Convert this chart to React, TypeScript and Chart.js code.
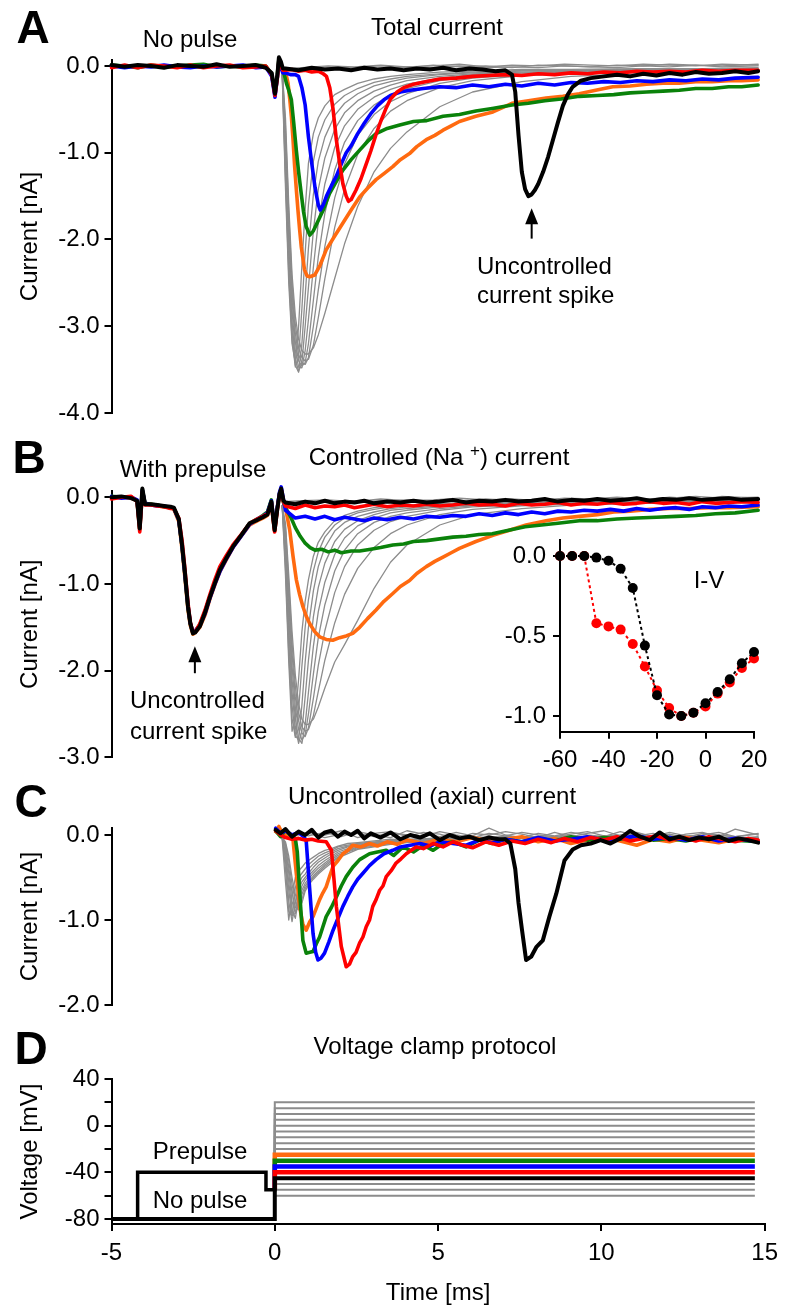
import React, { useEffect, useRef } from 'react';
import { Chart, registerables } from 'chart.js';

Chart.register(...registerables);

const FONT = "'Liberation Sans', Arial, Helvetica, sans-serif";
Chart.defaults.font.family = FONT;
Chart.defaults.font.size = 24;
Chart.defaults.color = '#000';

const GRAY = '#8c8c8c';
const RED = '#ff0000';
const BLUE = '#0000ff';
const GREEN = '#0a820a';
const ORANGE = '#ff6a10';
const BLACK = '#000000';

// ================= Panel A : Total current =================
const tPreA = [-5, -4.6, -4.2, -3.8, -3.4, -3.0, -2.6, -2.2, -1.8, -1.4, -1.0, -0.6, -0.3, -0.12, -0.02, 0.05, 0.1, 0.16, 0.22];
const preBlkA = [0.01, -0.01, 0.01, 0.0, -0.02, 0.01, 0.0, -0.01, 0.02, -0.01, 0.0, 0.01, -0.02, -0.08, -0.32, -0.12, 0.1, 0.05, -0.03];
const preRedA = [-0.02, 0.01, -0.02, 0.01, 0.0, -0.02, 0.01, -0.02, 0.0, 0.01, -0.02, -0.01, 0.0, -0.1, -0.34, -0.15, 0.06, 0.0, -0.05];
const preBluA = [0.0, -0.02, 0.0, -0.01, 0.01, -0.01, -0.02, 0.0, -0.01, 0.0, 0.01, -0.02, -0.01, -0.12, -0.36, -0.14, 0.05, -0.02, -0.08];
const preGrnA = [0.01, 0.0, -0.02, 0.01, -0.01, 0.0, 0.01, 0.02, -0.01, 0.0, -0.01, 0.01, 0.0, -0.09, -0.3, -0.1, 0.08, 0.02, -0.06];

const tBlkA = [0.3, 0.7, 1.1, 1.5, 1.9, 2.3, 2.7, 3.1, 3.5, 3.9, 4.3, 4.7, 5.1, 5.5, 5.9, 6.3, 6.7, 7.0, 7.2, 7.3, 7.4, 7.5, 7.6, 7.7, 7.8, 7.9, 8.0, 8.15, 8.3, 8.45, 8.6, 8.75, 8.9, 9.05, 9.3, 9.6, 10.0, 10.4, 10.8, 11.2, 11.6, 12.0, 12.4, 12.8, 13.2, 13.6, 14.0, 14.4, 14.7];
const vBlkA = [-0.03, -0.05, -0.02, -0.04, -0.03, -0.05, -0.02, -0.04, -0.03, -0.05, -0.03, -0.04, -0.02, -0.05, -0.03, -0.04, -0.06, -0.05, -0.1, -0.3, -0.8, -1.22, -1.42, -1.5, -1.48, -1.43, -1.36, -1.22, -1.05, -0.85, -0.65, -0.46, -0.33, -0.24, -0.17, -0.14, -0.12, -0.1, -0.12, -0.09, -0.11, -0.08, -0.1, -0.07, -0.09, -0.08, -0.06, -0.08, -0.06];

const tRedA = [0.3, 0.5, 0.7, 0.9, 1.1, 1.3, 1.45, 1.55, 1.65, 1.75, 1.85, 1.95, 2.05, 2.15, 2.22, 2.3, 2.45, 2.6, 2.75, 2.9, 3.05, 3.2, 3.35, 3.5, 3.7, 3.9, 4.2, 4.6, 5.0, 5.5, 6.0, 6.5, 7.0, 7.5, 8.0, 8.5, 9.0, 9.5, 10.0, 10.5, 11.0, 11.5, 12.0, 12.5, 13.0, 13.5, 14.0, 14.7];
const vRedA = [-0.05, -0.04, -0.06, -0.05, -0.07, -0.06, -0.09, -0.12, -0.25, -0.5, -0.85, -1.12, -1.36, -1.5, -1.56, -1.54, -1.43, -1.3, -1.14, -0.98, -0.8, -0.64, -0.5, -0.38, -0.3, -0.25, -0.21, -0.18, -0.15, -0.14, -0.12, -0.11, -0.1, -0.11, -0.09, -0.1, -0.08, -0.09, -0.07, -0.08, -0.06, -0.07, -0.06, -0.07, -0.05, -0.06, -0.05, -0.05];

const tBluA = [0.3, 0.45, 0.6, 0.7, 0.8, 0.9, 1.0, 1.1, 1.2, 1.3, 1.36, 1.45, 1.55, 1.7, 1.85, 2.0, 2.15, 2.3, 2.5, 2.7, 2.9, 3.1, 3.3, 3.5, 3.8, 4.1, 4.5, 5.0, 5.5, 6.0, 6.5, 7.0, 7.5, 8.0, 8.5, 9.0, 9.5, 10.0, 10.5, 11.0, 11.5, 12.0, 12.5, 13.0, 13.5, 14.0, 14.7];
const vBluA = [-0.08, -0.1, -0.1, -0.12, -0.25, -0.45, -0.82, -1.12, -1.4, -1.6, -1.66, -1.6, -1.5, -1.38, -1.27, -1.13, -1.0, -0.92, -0.78, -0.66, -0.55, -0.46, -0.39, -0.34, -0.3, -0.28, -0.26, -0.24, -0.25, -0.22, -0.24, -0.21, -0.23, -0.2, -0.22, -0.19, -0.2, -0.18, -0.19, -0.17, -0.18, -0.16, -0.17, -0.15, -0.16, -0.14, -0.13];

const tGrnA = [0.25, 0.33, 0.4, 0.48, 0.55, 0.63, 0.7, 0.78, 0.85, 0.93, 1.04, 1.15, 1.3, 1.45, 1.64, 1.85, 2.05, 2.3, 2.56, 2.8, 3.06, 3.4, 3.78, 4.2, 4.6, 5.1, 5.6, 6.1, 6.6, 7.2, 7.7, 8.2, 8.7, 9.25, 9.8, 10.3, 10.8, 11.3, 11.8, 12.3, 12.8, 13.3, 13.8, 14.2, 14.7];
const vGrnA = [-0.08, -0.2, -0.28, -0.39, -0.65, -0.97, -1.22, -1.47, -1.68, -1.85, -1.95, -1.9, -1.78, -1.66, -1.47, -1.33, -1.2, -1.08, -0.97, -0.87, -0.78, -0.72, -0.68, -0.64, -0.63, -0.58, -0.56, -0.52, -0.49, -0.45, -0.43, -0.4, -0.38, -0.35, -0.34, -0.33, -0.31, -0.3, -0.29, -0.28, -0.26, -0.26, -0.24, -0.24, -0.22];

const tOrgA = [0.25, 0.32, 0.38, 0.43, 0.48, 0.53, 0.58, 0.63, 0.68, 0.73, 0.78, 0.88, 0.96, 1.04, 1.19, 1.35, 1.54, 1.8, 2.05, 2.3, 2.56, 2.8, 3.06, 3.3, 3.57, 3.8, 4.08, 4.3, 4.59, 4.85, 5.1, 5.35, 5.6, 6.1, 6.62, 7.2, 7.7, 8.24, 8.75, 9.25, 9.75, 10.27, 10.8, 11.3, 11.8, 12.3, 12.8, 13.3, 13.8, 14.2, 14.7];
const vOrgA = [-0.06, -0.1, -0.2, -0.38, -0.58, -0.85, -1.16, -1.42, -1.66, -1.88, -2.08, -2.35, -2.42, -2.43, -2.41, -2.3, -2.12, -1.96, -1.81, -1.66, -1.51, -1.41, -1.31, -1.24, -1.16, -1.08, -1.01, -0.93, -0.85, -0.8, -0.74, -0.69, -0.64, -0.58, -0.53, -0.43, -0.4, -0.37, -0.35, -0.32, -0.28, -0.24, -0.23, -0.21, -0.2, -0.2, -0.18, -0.18, -0.17, -0.17, -0.16];

const tGA = [0.2, 0.3, 0.4, 0.5, 0.6, 0.7, 0.8, 0.9, 1.0, 1.15, 1.3, 1.5, 1.8, 2.1, 2.5, 3.0, 3.5, 4.0, 5.0, 6.0, 7.5, 9.0, 11.0, 13.0, 14.7];
const gA1 = [-0.1, -1.4, -2.5, -3.2, -3.42, -3.0, -2.3, -1.65, -1.12, -0.78, -0.6, -0.46, -0.33, -0.27, -0.2, -0.15, -0.12, -0.1, -0.07, -0.06, -0.04, -0.04, -0.03, -0.03, -0.02];
const gA2 = [-0.08, -1.3, -2.4, -3.15, -3.47, -3.35, -2.8, -2.15, -1.6, -1.1, -0.82, -0.62, -0.44, -0.34, -0.26, -0.19, -0.15, -0.12, -0.09, -0.07, -0.05, -0.05, -0.04, -0.04, -0.03];
const gA3 = [-0.07, -1.2, -2.3, -3.05, -3.45, -3.53, -3.2, -2.65, -2.1, -1.48, -1.1, -0.82, -0.57, -0.43, -0.32, -0.23, -0.18, -0.14, -0.1, -0.08, -0.06, -0.05, -0.04, -0.04, -0.03];
const gA4 = [-0.06, -1.1, -2.2, -2.95, -3.38, -3.52, -3.42, -3.0, -2.55, -1.9, -1.42, -1.06, -0.73, -0.54, -0.4, -0.29, -0.22, -0.17, -0.12, -0.09, -0.07, -0.06, -0.05, -0.04, -0.04];
const gA5 = [-0.06, -1.0, -2.05, -2.82, -3.28, -3.47, -3.48, -3.28, -2.92, -2.32, -1.8, -1.36, -0.94, -0.69, -0.5, -0.36, -0.27, -0.21, -0.14, -0.1, -0.08, -0.06, -0.05, -0.05, -0.04];
const gA6 = [-0.05, -0.9, -1.9, -2.7, -3.18, -3.4, -3.46, -3.42, -3.2, -2.7, -2.2, -1.7, -1.2, -0.88, -0.63, -0.45, -0.33, -0.26, -0.17, -0.12, -0.09, -0.07, -0.06, -0.05, -0.04];
const gA7 = [-0.05, -0.8, -1.8, -2.6, -3.08, -3.33, -3.42, -3.44, -3.36, -3.0, -2.58, -2.08, -1.52, -1.13, -0.8, -0.56, -0.41, -0.32, -0.2, -0.14, -0.1, -0.08, -0.06, -0.05, -0.05];
const gA8 = [-0.05, -0.7, -1.7, -2.5, -2.98, -3.25, -3.36, -3.4, -3.38, -3.22, -2.9, -2.45, -1.86, -1.42, -1.02, -0.72, -0.52, -0.4, -0.25, -0.17, -0.11, -0.09, -0.07, -0.06, -0.05];
const gA9 = [-0.05, -0.6, -1.6, -2.4, -2.88, -3.15, -3.28, -3.32, -3.32, -3.25, -3.1, -2.85, -2.45, -2.05, -1.62, -1.22, -0.95, -0.76, -0.47, -0.3, -0.18, -0.12, -0.09, -0.07, -0.06];

const tFlat = [0.22, 0.8, 1.6, 2.4, 3.2, 4.0, 4.8, 5.6, 6.4, 7.2, 8.0, 8.8, 9.6, 10.4, 11.2, 12.0, 12.8, 13.6, 14.7];
const fA1 = [-0.03, -0.02, 0.0, -0.01, 0.01, -0.01, 0.0, 0.02, -0.01, 0.01, 0.0, 0.02, 0.01, 0.0, 0.02, 0.01, 0.0, 0.02, 0.01];
const fA2 = [-0.04, -0.03, -0.01, -0.02, 0.0, -0.02, 0.01, -0.01, 0.0, -0.02, 0.01, 0.0, -0.01, 0.01, 0.0, 0.02, 0.01, 0.0, 0.02];
const fA3 = [-0.05, -0.04, -0.03, -0.02, -0.03, -0.01, -0.02, 0.0, -0.02, -0.01, -0.02, 0.0, -0.01, -0.02, 0.0, -0.01, 0.01, -0.01, 0.0];

// ================= Panel B : Controlled (Na+) current =================
const tPreB = [-5, -4.7, -4.4, -4.22, -4.14, -4.06, -3.98, -3.8, -3.6, -3.4, -3.2, -3.1, -2.95, -2.85, -2.77, -2.67, -2.6, -2.52, -2.45, -2.31, -2.15, -2.0, -1.85, -1.7, -1.5, -1.3, -1.05, -0.79, -0.55, -0.39, -0.25, -0.13, -0.08, -0.03, 0.05, 0.12, 0.17, 0.24];
const preBlkB = [0.0, 0.01, -0.01, -0.04, -0.36, 0.1, -0.08, -0.08, -0.09, -0.1, -0.11, -0.12, -0.25, -0.55, -0.84, -1.26, -1.45, -1.57, -1.56, -1.49, -1.33, -1.15, -0.99, -0.84, -0.7, -0.57, -0.44, -0.3, -0.26, -0.23, -0.2, -0.05, -0.22, -0.38, -0.14, 0.04, 0.1, -0.04];
const preRedB = [-0.02, 0.0, 0.01, -0.05, -0.4, 0.06, -0.09, -0.09, -0.1, -0.11, -0.13, -0.13, -0.24, -0.5, -0.8, -1.22, -1.44, -1.56, -1.55, -1.46, -1.3, -1.12, -0.95, -0.8, -0.67, -0.55, -0.43, -0.3, -0.25, -0.22, -0.19, -0.06, -0.24, -0.4, -0.15, 0.03, 0.09, -0.05];
const preBluB = [0.01, -0.01, 0.0, -0.03, -0.34, 0.08, -0.07, -0.09, -0.1, -0.1, -0.12, -0.13, -0.26, -0.56, -0.86, -1.25, -1.45, -1.56, -1.54, -1.48, -1.34, -1.16, -1.0, -0.86, -0.71, -0.58, -0.45, -0.31, -0.25, -0.22, -0.18, -0.04, -0.2, -0.36, -0.12, 0.06, 0.12, -0.03];
const preGrnB = [0.01, 0.0, 0.0, -0.04, -0.37, 0.09, -0.07, -0.08, -0.09, -0.11, -0.12, -0.13, -0.26, -0.57, -0.87, -1.27, -1.46, -1.57, -1.55, -1.47, -1.32, -1.14, -0.98, -0.84, -0.7, -0.56, -0.44, -0.3, -0.25, -0.21, -0.17, -0.03, -0.21, -0.37, -0.13, 0.05, 0.09, -0.06];
const preOrgB = [0.0, 0.0, -0.01, -0.04, -0.35, 0.08, -0.08, -0.08, -0.1, -0.11, -0.12, -0.14, -0.28, -0.6, -0.9, -1.3, -1.48, -1.58, -1.56, -1.5, -1.36, -1.17, -1.01, -0.86, -0.72, -0.58, -0.45, -0.32, -0.27, -0.24, -0.21, -0.07, -0.23, -0.39, -0.13, 0.04, 0.08, -0.06];

const tNoiseB = [0.3, 0.6, 0.9, 1.2, 1.5, 1.8, 2.1, 2.4, 2.7, 3.0, 3.4, 3.8, 4.2, 4.6, 5.0, 5.4, 5.8, 6.2, 6.6, 7.0, 7.4, 7.8, 8.2, 8.6, 9.0, 9.4, 9.8, 10.2, 10.6, 11.0, 11.4, 11.8, 12.2, 12.6, 13.0, 13.4, 13.8, 14.2, 14.7];
const vBlkB = [-0.06, -0.08, -0.05, -0.07, -0.04, -0.07, -0.05, -0.06, -0.04, -0.07, -0.05, -0.06, -0.04, -0.06, -0.05, -0.03, -0.06, -0.04, -0.05, -0.03, -0.05, -0.04, -0.02, -0.05, -0.03, -0.04, -0.02, -0.04, -0.03, -0.01, -0.04, -0.02, -0.03, -0.01, -0.03, -0.02, -0.01, -0.03, -0.02];
const vRedB = [-0.1, -0.13, -0.09, -0.12, -0.1, -0.11, -0.09, -0.12, -0.1, -0.08, -0.11, -0.09, -0.1, -0.08, -0.1, -0.09, -0.07, -0.09, -0.08, -0.1, -0.07, -0.09, -0.08, -0.06, -0.09, -0.07, -0.08, -0.06, -0.08, -0.07, -0.05, -0.07, -0.06, -0.08, -0.05, -0.07, -0.06, -0.05, -0.06];
const vBluB = [-0.15, -0.24, -0.22, -0.25, -0.22, -0.26, -0.23, -0.25, -0.27, -0.24, -0.26, -0.23, -0.25, -0.22, -0.23, -0.21, -0.22, -0.19, -0.21, -0.18, -0.2, -0.17, -0.19, -0.16, -0.17, -0.15, -0.16, -0.14, -0.16, -0.13, -0.15, -0.13, -0.12, -0.14, -0.11, -0.12, -0.1, -0.11, -0.09];

const tGrnB = [0.3, 0.45, 0.6, 0.75, 0.9, 1.05, 1.2, 1.4, 1.6, 1.8, 2.0, 2.3, 2.56, 2.9, 3.2, 3.57, 3.9, 4.2, 4.6, 5.0, 5.4, 5.8, 6.2, 6.6, 7.1, 7.6, 8.1, 8.6, 9.25, 9.8, 10.4, 11.0, 11.6, 12.2, 12.8, 13.4, 14.0, 14.7];
const vGrnB = [-0.12, -0.22, -0.35, -0.45, -0.53, -0.58, -0.61, -0.6, -0.63, -0.61, -0.64, -0.62, -0.62, -0.6, -0.58, -0.55, -0.54, -0.51, -0.5, -0.48, -0.46, -0.45, -0.43, -0.42, -0.38, -0.34, -0.32, -0.3, -0.27, -0.27, -0.25, -0.24, -0.23, -0.22, -0.21, -0.19, -0.18, -0.15];

const tOrgB = [0.3, 0.43, 0.53, 0.63, 0.73, 0.83, 0.93, 1.04, 1.19, 1.34, 1.54, 1.74, 1.95, 2.15, 2.35, 2.56, 2.8, 3.06, 3.3, 3.57, 3.8, 4.08, 4.3, 4.59, 4.85, 5.1, 5.35, 5.6, 6.1, 6.62, 7.12, 7.63, 8.24, 8.75, 9.25, 9.8, 10.3, 10.8, 11.4, 12.0, 12.6, 13.2, 13.8, 14.7];
const vOrgB = [-0.12, -0.38, -0.68, -0.95, -1.12, -1.26, -1.37, -1.46, -1.55, -1.61, -1.64, -1.65, -1.62, -1.6, -1.57, -1.5, -1.4, -1.3, -1.2, -1.11, -1.03, -0.96, -0.88, -0.8, -0.74, -0.69, -0.64, -0.59, -0.51, -0.44, -0.38, -0.32, -0.27, -0.24, -0.22, -0.2, -0.17, -0.16, -0.14, -0.13, -0.13, -0.12, -0.12, -0.11];

const gB1 = [-0.1, -0.9, -1.9, -2.7, -2.55, -2.1, -1.55, -1.2, -0.95, -0.68, -0.52, -0.4, -0.27, -0.21, -0.16, -0.12, -0.1, -0.09, -0.07, -0.06, -0.05, -0.05, -0.04, -0.04, -0.03];
const gB2 = [-0.1, -0.8, -1.8, -2.55, -2.77, -2.45, -1.95, -1.5, -1.18, -0.85, -0.63, -0.46, -0.32, -0.24, -0.18, -0.14, -0.11, -0.1, -0.08, -0.07, -0.06, -0.05, -0.05, -0.04, -0.03];
const gB3 = [-0.1, -0.7, -1.65, -2.4, -2.75, -2.8, -2.4, -1.9, -1.5, -1.08, -0.8, -0.58, -0.39, -0.29, -0.22, -0.17, -0.13, -0.11, -0.09, -0.07, -0.06, -0.06, -0.05, -0.04, -0.04];
const gB4 = [-0.1, -0.6, -1.5, -2.25, -2.65, -2.84, -2.7, -2.3, -1.88, -1.38, -1.04, -0.76, -0.51, -0.37, -0.27, -0.2, -0.15, -0.13, -0.1, -0.08, -0.07, -0.06, -0.05, -0.05, -0.04];
const gB5 = [-0.1, -0.5, -1.35, -2.1, -2.55, -2.78, -2.84, -2.62, -2.25, -1.72, -1.32, -0.98, -0.66, -0.47, -0.33, -0.24, -0.18, -0.15, -0.11, -0.09, -0.07, -0.06, -0.06, -0.05, -0.04];
const gB6 = [-0.1, -0.45, -1.2, -1.95, -2.42, -2.68, -2.8, -2.74, -2.5, -2.04, -1.62, -1.24, -0.85, -0.61, -0.42, -0.29, -0.22, -0.18, -0.13, -0.1, -0.08, -0.07, -0.06, -0.05, -0.05];
const gB7 = [-0.1, -0.4, -1.1, -1.8, -2.3, -2.58, -2.72, -2.76, -2.66, -2.32, -1.94, -1.54, -1.1, -0.8, -0.55, -0.38, -0.28, -0.22, -0.15, -0.11, -0.09, -0.07, -0.06, -0.06, -0.05];
const gB8 = [-0.1, -0.35, -1.0, -1.68, -2.18, -2.48, -2.65, -2.7, -2.68, -2.52, -2.24, -1.88, -1.45, -1.12, -0.82, -0.58, -0.42, -0.32, -0.2, -0.14, -0.1, -0.08, -0.07, -0.06, -0.05];
const gB9 = [-0.1, -0.3, -0.9, -1.55, -2.05, -2.38, -2.56, -2.62, -2.62, -2.56, -2.42, -2.2, -1.9, -1.7, -1.42, -1.05, -0.75, -0.55, -0.32, -0.2, -0.13, -0.09, -0.07, -0.06, -0.05];

const fB1 = [-0.05, -0.04, -0.03, -0.05, -0.02, -0.04, -0.03, -0.01, -0.03, -0.02, -0.04, -0.01, -0.02, 0.0, -0.02, -0.01, 0.01, -0.01, 0.0];
const fB2 = [-0.06, -0.05, -0.06, -0.04, -0.05, -0.03, -0.05, -0.04, -0.02, -0.04, -0.03, -0.02, -0.04, -0.02, -0.03, 0.0, -0.02, -0.01, -0.02];
const fB3 = [-0.08, -0.07, -0.05, -0.06, -0.04, -0.06, -0.04, -0.05, -0.03, -0.05, -0.02, -0.04, -0.03, -0.01, -0.03, -0.02, -0.03, 0.01, -0.01];

// I-V inset (normalised peak current vs test potential)
const ivVoltage = [-60, -55, -50, -45, -40, -35, -30, -25, -20, -15, -10, -5, 0, 5, 10, 15, 20];
const ivNoPulse = [0.0, 0.0, 0.0, -0.01, -0.03, -0.08, -0.2, -0.56, -0.87, -0.99, -1.0, -0.98, -0.92, -0.85, -0.77, -0.67, -0.6];
const ivPrepulse = [0.0, 0.0, 0.0, -0.42, -0.44, -0.46, -0.55, -0.69, -0.84, -0.95, -1.0, -0.98, -0.94, -0.86, -0.79, -0.7, -0.64];

// ================= Panel C : Uncontrolled (axial) current =================
const tBlkC = [0.0, 0.15, 0.3, 0.5, 0.7, 0.9, 1.1, 1.3, 1.5, 1.7, 1.9, 2.1, 2.3, 2.5, 2.7, 2.9, 3.2, 3.5, 3.8, 4.1, 4.4, 4.7, 5.0, 5.3, 5.6, 5.9, 6.2, 6.5, 6.8, 7.0, 7.15, 7.3, 7.4, 7.5, 7.63, 7.79, 7.94, 8.14, 8.34, 8.55, 8.8, 9.05, 9.3, 9.6, 9.9, 10.2, 10.5, 10.8, 11.1, 11.4, 11.7, 12.0, 12.3, 12.6, 12.9, 13.2, 13.5, 13.8, 14.1, 14.4, 14.7];
const vBlkC = [0.06, 0.02, 0.07, -0.02, 0.04, 0.0, 0.06, -0.03, 0.03, 0.05, -0.02, 0.04, 0.0, 0.05, -0.04, 0.02, -0.03, 0.03, -0.05, 0.0, -0.03, 0.02, -0.06, 0.0, -0.04, -0.02, -0.06, -0.03, -0.05, -0.05, -0.1, -0.4, -0.8, -1.1, -1.47, -1.43, -1.32, -1.24, -0.96, -0.69, -0.3, -0.17, -0.12, -0.1, -0.06, -0.1, -0.04, 0.05, -0.02, -0.06, 0.03, -0.05, -0.02, -0.06, -0.03, -0.05, -0.02, -0.07, -0.04, -0.06, -0.09];

const tRedC = [0.0, 0.15, 0.3, 0.5, 0.7, 0.9, 1.1, 1.3, 1.54, 1.7, 1.85, 2.0, 2.15, 2.25, 2.35, 2.45, 2.56, 2.66, 2.76, 2.86, 2.96, 3.06, 3.17, 3.27, 3.37, 3.52, 3.67, 3.82, 3.98, 4.13, 4.28, 4.5, 4.8, 5.1, 5.4, 5.7, 6.0, 6.4, 6.8, 7.2, 7.6, 8.0, 8.4, 8.8, 9.2, 9.6, 10.0, 10.4, 10.8, 11.2, 11.6, 12.0, 12.4, 12.8, 13.2, 13.6, 14.0, 14.4, 14.7];
const vRedC = [0.05, 0.0, -0.03, -0.05, -0.04, -0.06, -0.05, -0.07, -0.08, -0.18, -0.84, -1.31, -1.55, -1.52, -1.43, -1.38, -1.27, -1.2, -1.08, -1.0, -0.84, -0.76, -0.65, -0.6, -0.49, -0.42, -0.33, -0.28, -0.22, -0.18, -0.14, -0.16, -0.1, -0.14, -0.08, -0.12, -0.15, -0.08, -0.12, -0.07, -0.1, -0.05, -0.09, -0.04, -0.08, -0.03, -0.06, -0.02, -0.07, -0.04, -0.01, -0.06, -0.03, -0.07, -0.02, -0.05, -0.08, -0.04, -0.06];

const tBluC = [0.0, 0.15, 0.3, 0.5, 0.7, 0.85, 0.93, 1.04, 1.14, 1.22, 1.29, 1.38, 1.49, 1.62, 1.75, 1.9, 2.05, 2.2, 2.35, 2.5, 2.66, 2.86, 3.06, 3.3, 3.57, 3.8, 4.1, 4.4, 4.7, 5.0, 5.4, 5.8, 6.2, 6.6, 7.0, 7.5, 8.0, 8.5, 9.0, 9.5, 10.0, 10.5, 11.0, 11.5, 12.0, 12.5, 13.0, 13.5, 14.0, 14.7];
const vBluC = [0.08, 0.02, 0.05, 0.0, 0.03, -0.02, -0.06, -0.65, -1.16, -1.38, -1.47, -1.45, -1.39, -1.26, -1.12, -0.98, -0.84, -0.72, -0.61, -0.52, -0.45, -0.36, -0.29, -0.22, -0.18, -0.14, -0.12, -0.1, -0.13, -0.08, -0.1, -0.12, -0.06, -0.09, -0.05, -0.08, -0.03, -0.07, -0.05, -0.02, -0.06, -0.04, -0.01, -0.05, -0.03, -0.06, -0.02, -0.07, -0.04, -0.08];

const tGrnC = [0.0, 0.15, 0.3, 0.45, 0.6, 0.66, 0.73, 0.78, 0.83, 0.93, 1.04, 1.14, 1.24, 1.34, 1.44, 1.54, 1.7, 1.85, 2.0, 2.15, 2.35, 2.56, 2.86, 3.1, 3.37, 3.6, 3.88, 4.2, 4.5, 4.8, 5.1, 5.4, 5.8, 6.2, 6.6, 7.0, 7.5, 8.0, 8.5, 9.0, 9.5, 10.0, 10.5, 11.0, 11.5, 12.0, 12.5, 13.0, 13.5, 14.0, 14.7];
const vGrnC = [0.05, -0.02, 0.06, 0.0, -0.04, -0.2, -0.65, -0.95, -1.24, -1.39, -1.38, -1.37, -1.28, -1.2, -1.08, -0.96, -0.85, -0.73, -0.6, -0.49, -0.38, -0.29, -0.22, -0.2, -0.18, -0.24, -0.14, -0.2, -0.12, -0.18, -0.1, -0.08, -0.14, -0.06, -0.1, -0.05, -0.08, -0.04, -0.07, -0.02, -0.06, -0.03, -0.05, -0.01, -0.06, -0.04, -0.07, -0.03, -0.05, -0.06, -0.08];

const tOrgC = [0.0, 0.1, 0.2, 0.35, 0.45, 0.53, 0.63, 0.73, 0.83, 0.93, 1.04, 1.14, 1.24, 1.34, 1.44, 1.54, 1.65, 1.75, 1.9, 2.05, 2.2, 2.35, 2.6, 2.86, 3.1, 3.4, 3.7, 4.0, 4.5, 5.0, 5.5, 6.0, 6.5, 7.0, 7.5, 8.0, 8.5, 9.0, 9.5, 10.0, 10.5, 11.0, 11.5, 12.0, 12.5, 13.0, 13.5, 14.0, 14.7];
const vOrgC = [0.04, 0.1, 0.02, 0.0, -0.03, -0.06, -0.45, -0.84, -1.05, -1.12, -1.02, -0.96, -0.86, -0.76, -0.68, -0.61, -0.48, -0.37, -0.3, -0.22, -0.18, -0.12, -0.14, -0.1, -0.13, -0.08, -0.11, -0.06, -0.1, -0.05, -0.08, -0.03, -0.07, -0.05, -0.02, -0.08, -0.04, -0.1, -0.06, -0.03, -0.07, -0.12, -0.05, -0.08, -0.03, -0.06, -0.09, -0.05, -0.07];

const tGC = [0.1, 0.2, 0.3, 0.4, 0.5, 0.6, 0.7, 0.8, 0.9, 1.0, 1.15, 1.3, 1.5, 1.7, 1.9, 2.2, 2.5, 3.0, 3.5, 4.0, 5.0, 6.0, 7.0, 8.0, 9.0, 10.0, 11.0, 12.0, 13.0, 14.0, 14.7];
const gC1 = [0.05, -0.05, -0.55, -1.0, -0.72, -0.5, -0.42, -0.38, -0.33, -0.3, -0.26, -0.22, -0.18, -0.16, -0.13, -0.1, -0.09, -0.07, -0.05, -0.06, -0.03, -0.05, -0.02, -0.04, -0.01, -0.03, -0.05, -0.02, -0.04, -0.03, -0.05];
const gC2 = [0.04, -0.03, -0.4, -0.9, -0.95, -0.62, -0.5, -0.45, -0.4, -0.35, -0.3, -0.25, -0.21, -0.18, -0.14, -0.12, -0.1, -0.08, -0.07, -0.05, -0.04, -0.03, -0.05, -0.02, -0.04, -0.02, -0.03, -0.05, -0.02, -0.04, -0.06];
const gC3 = [0.06, -0.02, -0.3, -0.78, -1.02, -0.8, -0.58, -0.5, -0.46, -0.4, -0.34, -0.29, -0.24, -0.2, -0.16, -0.13, -0.11, -0.09, -0.07, -0.06, -0.05, -0.02, -0.04, -0.03, -0.05, -0.01, -0.04, -0.02, -0.05, -0.03, -0.04];
const gC4 = [0.03, -0.04, -0.25, -0.65, -0.95, -0.92, -0.65, -0.55, -0.5, -0.45, -0.38, -0.32, -0.27, -0.22, -0.18, -0.14, -0.12, -0.1, -0.08, -0.06, -0.04, -0.05, -0.02, -0.04, -0.03, -0.05, -0.02, -0.03, -0.04, -0.02, -0.05];
const gC5 = [0.05, -0.03, -0.2, -0.55, -0.88, -0.98, -0.75, -0.6, -0.53, -0.48, -0.42, -0.36, -0.3, -0.25, -0.2, -0.16, -0.13, -0.1, -0.08, -0.07, -0.05, -0.03, -0.05, -0.02, -0.04, -0.03, -0.01, -0.04, -0.02, -0.05, -0.03];
const gC6 = [0.04, -0.02, -0.15, -0.45, -0.78, -0.92, -0.82, -0.65, -0.57, -0.52, -0.45, -0.39, -0.33, -0.27, -0.22, -0.18, -0.14, -0.11, -0.09, -0.07, -0.05, -0.04, -0.02, -0.05, -0.03, -0.02, -0.04, -0.01, -0.03, -0.04, -0.02];
const gC7 = [0.06, -0.01, -0.12, -0.38, -0.68, -0.85, -0.88, -0.7, -0.6, -0.55, -0.48, -0.42, -0.35, -0.29, -0.24, -0.19, -0.15, -0.12, -0.1, -0.08, -0.05, -0.03, -0.04, -0.02, -0.05, -0.03, -0.02, -0.04, -0.05, -0.02, -0.04];
const gC8 = [0.05, -0.02, -0.1, -0.3, -0.58, -0.78, -0.86, -0.76, -0.63, -0.57, -0.5, -0.44, -0.37, -0.31, -0.26, -0.2, -0.16, -0.13, -0.1, -0.08, -0.06, -0.04, -0.03, -0.05, -0.02, -0.04, -0.03, -0.01, -0.04, -0.03, -0.05];
const gC9 = [0.04, -0.03, -0.08, -0.25, -0.5, -0.7, -0.82, -0.8, -0.66, -0.59, -0.52, -0.46, -0.39, -0.33, -0.27, -0.22, -0.17, -0.14, -0.11, -0.09, -0.06, -0.05, -0.03, -0.04, -0.02, -0.05, -0.03, -0.04, -0.02, -0.05, -0.03];

const tFlatC = [0.0, 0.5, 1.0, 1.5, 2.0, 2.5, 3.0, 3.5, 4.0, 4.5, 5.0, 5.5, 6.0, 6.5, 7.0, 7.5, 8.0, 8.5, 9.0, 9.5, 10.0, 10.5, 11.0, 11.5, 12.0, 12.5, 13.0, 13.5, 14.0, 14.7];
const fC1 = [0.06, 0.02, -0.01, 0.03, -0.02, 0.04, 0.0, -0.03, 0.05, 0.01, -0.02, 0.03, -0.01, 0.08, 0.0, -0.03, 0.02, -0.01, 0.03, 0.0, -0.02, 0.04, -0.01, 0.02, -0.03, 0.01, 0.03, -0.02, 0.07, 0.0];
const fC2 = [0.04, -0.02, 0.03, 0.0, 0.05, -0.03, 0.02, 0.04, -0.02, 0.03, 0.01, -0.04, 0.02, 0.0, 0.04, 0.01, -0.03, 0.03, -0.02, 0.02, 0.05, -0.01, 0.02, -0.02, 0.03, -0.01, 0.0, 0.03, -0.02, 0.01];
const fC3 = [0.08, 0.0, 0.02, -0.03, 0.01, 0.02, -0.02, 0.03, 0.0, -0.02, 0.04, 0.0, -0.03, 0.02, -0.01, 0.03, 0.0, -0.02, 0.01, 0.04, -0.01, 0.0, 0.03, -0.02, 0.01, -0.03, 0.02, 0.0, -0.02, 0.02];

// ================= Panel D : Voltage clamp protocol =================
const dGrayLevels = [20, 15, 10, 5, 0, -5, -10, -15, -20, -50, -55, -60];
const dColorLevels = [-25, -30, -35, -40]; // orange, green, blue, red
const dBlackLevel = -45;
const dHold = -80;
const dPrepulse = -40;
const dGap = -55;
const dTimes = { start: -5, preOn: -4.2, preOff: -0.27, step: 0, end: 14.7 };

// annotation arrows (time, tip value, tail value)
const arrowA = { t: 7.8, tip: -1.64, tail: -1.99 };
const arrowB = { t: -2.46, tip: -1.72, tail: -2.03 };

// ============================================================
const pts = (t: number[], v: number[]) => t.map((x, i) => ({ x, y: v[i] }));
const cat = (a: number[], b: number[]) => a.concat(b);

function trace(data: any[], color: string, width: number, order: number, extra: any = {}) {
  return {
    data,
    borderColor: color,
    backgroundColor: color,
    borderWidth: width,
    pointRadius: 0,
    pointHoverRadius: 0,
    fill: false,
    tension: 0,
    order,
    clip: false,
    borderJoinStyle: 'round',
    borderCapStyle: 'round',
    ...extra,
  };
}

function yAxis(min: number, max: number, step: number, title: string, width: number, fmt: (v: number) => string) {
  return {
    type: 'linear',
    position: 'left',
    min,
    max,
    border: { display: true, color: '#000', width: 2 },
    grid: { display: true, drawOnChartArea: false, drawTicks: true, tickLength: 7, color: '#000', lineWidth: 2 },
    ticks: {
      stepSize: step,
      includeBounds: false,
      autoSkip: false,
      maxRotation: 0,
      minRotation: 0,
      padding: 5,
      color: '#000',
      font: { family: FONT, size: 24 },
      callback: (v: any) => fmt(Number(v)),
    },
    title: {
      display: title !== '',
      text: title,
      color: '#000',
      font: { family: FONT, size: 24, lineHeight: 1.2 },
      padding: { top: 16, bottom: 0 },
    },
    afterFit: (s: any) => {
      s.width = width;
    },
  };
}

const xHidden = { type: 'linear', min: -5, max: 15, display: false };
const fmt1 = (v: number) => v.toFixed(1);

function baseOptions(scales: any, padding: any) {
  return {
    animation: false,
    responsive: false,
    maintainAspectRatio: false,
    devicePixelRatio: 1,
    events: [],
    layout: { padding },
    plugins: { legend: { display: false }, tooltip: { enabled: false }, title: { display: false } },
    scales,
  };
}

const arrowPlugin = (arrows: { t: number; tip: number; tail: number }[]) => ({
  id: 'arrows',
  afterDatasetsDraw(chart: any) {
    const ctx = chart.ctx;
    const xs = chart.scales.x;
    const ys = chart.scales.y;
    ctx.save();
    ctx.fillStyle = '#000';
    ctx.strokeStyle = '#000';
    ctx.lineWidth = 2;
    for (const a of arrows) {
      const x = xs.getPixelForValue(a.t);
      const y0 = ys.getPixelForValue(a.tip);
      const y1 = ys.getPixelForValue(a.tail);
      ctx.beginPath();
      ctx.moveTo(x, y0 + 12);
      ctx.lineTo(x, y1);
      ctx.stroke();
      ctx.beginPath();
      ctx.moveTo(x, y0);
      ctx.lineTo(x - 6.5, y0 + 16);
      ctx.lineTo(x + 6.5, y0 + 16);
      ctx.closePath();
      ctx.fill();
    }
    ctx.restore();
  },
});

type Box = { left: number; top: number; width: number; height: number };

function ChartCanvas({ box, build }: { box: Box; build: () => any }) {
  const ref = useRef<HTMLCanvasElement | null>(null);
  useEffect(() => {
    if (!ref.current) return;
    const chart = new Chart(ref.current, build());
    return () => chart.destroy();
  }, []);
  return (
    <canvas
      ref={ref}
      width={box.width}
      height={box.height}
      style={{ position: 'absolute', left: box.left, top: box.top, width: box.width, height: box.height }}
    />
  );
}

const CW = 3.6; // coloured trace width
const KW = 4; // black trace width
const GW = 1.3; // gray trace width

// ---------------- chart builders ----------------
const boxA: Box = { left: 0, top: 0, width: 786, height: 450 };
function buildA() {
  const grays = [gA1, gA2, gA3, gA4, gA5, gA6, gA7, gA8, gA9].map((g) => trace(pts(tGA, g), GRAY, GW, 100));
  const flats = [fA1, fA2, fA3].map((f) => trace(pts(tFlat, f), GRAY, GW, 100));
  return {
    type: 'line',
    data: {
      datasets: [
        ...grays,
        ...flats,
        trace(pts(tOrgA, vOrgA), ORANGE, CW, 5),
        trace(pts(cat(tPreA, tGrnA), cat(preGrnA, vGrnA)), GREEN, CW, 4),
        trace(pts(cat(tPreA, tBluA), cat(preBluA, vBluA)), BLUE, CW, 3),
        trace(pts(cat(tPreA, tRedA), cat(preRedA, vRedA)), RED, CW, 2),
        trace(pts(cat(tPreA, tBlkA), cat(preBlkA, vBlkA)), BLACK, KW, 1),
      ],
    },
    options: baseOptions(
      { x: xHidden, y: yAxis(-4, 0.07, 1, 'Current [nA]', 111.5, fmt1) },
      { left: 0, right: 18, top: 59.9, bottom: 37 }
    ),
    plugins: [arrowPlugin([arrowA])],
  };
}

const boxB: Box = { left: 0, top: 420, width: 786, height: 370 };
function buildB() {
  const grays = [gB1, gB2, gB3, gB4, gB5, gB6, gB7, gB8, gB9].map((g) => trace(pts(tGA, g), GRAY, GW, 100));
  const flats = [fB1, fB2, fB3].map((f) => trace(pts(tFlat, f), GRAY, GW, 100));
  return {
    type: 'line',
    data: {
      datasets: [
        ...grays,
        ...flats,
        trace(pts(cat(tPreB, tOrgB), cat(preOrgB, vOrgB)), ORANGE, CW, 5),
        trace(pts(cat(tPreB, tGrnB), cat(preGrnB, vGrnB)), GREEN, CW, 4),
        trace(pts(cat(tPreB, tNoiseB), cat(preBluB, vBluB)), BLUE, CW, 3),
        trace(pts(cat(tPreB, tNoiseB), cat(preRedB, vRedB)), RED, CW, 2),
        trace(pts(cat(tPreB, tNoiseB), cat(preBlkB, vBlkB)), BLACK, KW, 1),
      ],
    },
    options: baseOptions(
      { x: xHidden, y: yAxis(-3, 0.07, 1, 'Current [nA]', 111.5, fmt1) },
      { left: 0, right: 18, top: 71.2, bottom: 32.7 }
    ),
    plugins: [arrowPlugin([arrowB])],
  };
}

const boxInset: Box = { left: 470, top: 500, width: 316, height: 280 };
function buildInset() {
  const dotted = (v: number[], color: string, order: number) => ({
    data: pts(ivVoltage, v),
    borderColor: color,
    backgroundColor: color,
    borderWidth: 2,
    borderDash: [3, 3],
    pointRadius: 5,
    pointBorderWidth: 0,
    pointBackgroundColor: color,
    pointHoverRadius: 5,
    fill: false,
    tension: 0,
    clip: false,
    order,
  });
  return {
    type: 'line',
    data: { datasets: [dotted(ivPrepulse, RED, 2), dotted(ivNoPulse, BLACK, 1)] },
    options: baseOptions(
      {
        x: {
          type: 'linear',
          position: 'bottom',
          min: -60,
          max: 20,
          border: { display: true, color: '#000', width: 2 },
          grid: { display: true, drawOnChartArea: false, drawTicks: true, tickLength: 7, color: '#000', lineWidth: 2 },
          ticks: { stepSize: 20, includeBounds: false, autoSkip: false, maxRotation: 0, minRotation: 0, padding: 7, color: '#000', font: { family: FONT, size: 24 }, callback: (v: any) => String(v) },
          afterFit: (s: any) => {
            s.height = 48.3;
          },
        },
        y: (() => {
          const y: any = yAxis(-1.098, 0.1, 0.5, '', 90, fmt1);
          y.ticks.padding = 7;
          return y;
        })(),
      },
      { left: 0, right: 32, top: 40, bottom: 0 }
    ),
  };
}

const boxC: Box = { left: 0, top: 760, width: 786, height: 275 };
function buildC() {
  const grays = [gC1, gC2, gC3, gC4, gC5, gC6, gC7, gC8, gC9].map((g) => trace(pts(tGC, g), GRAY, GW, 100));
  const flats = [fC1, fC2, fC3].map((f) => trace(pts(tFlatC, f), GRAY, GW, 100));
  return {
    type: 'line',
    data: {
      datasets: [
        ...grays,
        ...flats,
        trace(pts(tOrgC, vOrgC), ORANGE, CW, 5),
        trace(pts(tGrnC, vGrnC), GREEN, CW, 4),
        trace(pts(tBluC, vBluC), BLUE, CW, 3),
        trace(pts(tRedC, vRedC), RED, CW, 2),
        trace(pts(tBlkC, vBlkC), BLACK, KW, 1),
      ],
    },
    options: baseOptions(
      { x: xHidden, y: yAxis(-2, 0.08, 1, 'Current [nA]', 111.5, fmt1) },
      { left: 0, right: 18, top: 68.2, bottom: 30 }
    ),
  };
}

const boxD: Box = { left: 0, top: 1010, width: 786, height: 296 };
function buildD() {
  const { start, preOn, preOff, step, end } = dTimes;
  const stepTrace = (v: number) => [
    { x: step, y: dGap },
    { x: step, y: v },
    { x: end, y: v },
  ];
  const flat = { borderCapStyle: 'butt', borderJoinStyle: 'miter' };
  const grays = dGrayLevels.map((v) => trace(stepTrace(v), GRAY, 2, 100, flat));
  const colors = [ORANGE, GREEN, BLUE, RED];
  const colored = dColorLevels.map((v, i) => trace(stepTrace(v), colors[i], 4.5, 5 - i, flat));
  const noPulse = [
    { x: start, y: dHold },
    { x: step, y: dHold },
    { x: step, y: dBlackLevel },
    { x: end, y: dBlackLevel },
  ];
  const withPre = [
    { x: start, y: dHold },
    { x: preOn, y: dHold },
    { x: preOn, y: dPrepulse },
    { x: preOff, y: dPrepulse },
    { x: preOff, y: dGap },
    { x: step, y: dGap },
    { x: step, y: dBlackLevel },
  ];
  return {
    type: 'line',
    data: {
      datasets: [...grays, ...colored, trace(withPre, BLACK, 3.5, 0, flat), trace(noPulse, BLACK, 4, 0, flat)],
    },
    options: baseOptions(
      {
        x: {
          type: 'linear',
          position: 'bottom',
          min: -5,
          max: 15,
          border: { display: true, color: '#000', width: 2 },
          grid: { display: true, drawOnChartArea: false, drawTicks: true, tickLength: 7, color: '#000', lineWidth: 2 },
          ticks: { stepSize: 5, includeBounds: false, autoSkip: false, maxRotation: 0, minRotation: 0, padding: 8, color: '#000', font: { family: FONT, size: 24 }, callback: (v: any) => String(v) },
          title: { display: true, text: 'Time [ms]', color: '#000', font: { family: FONT, size: 24, lineHeight: 1 }, padding: { top: 0, bottom: 1 } },
          afterFit: (s: any) => {
            s.height = 82;
          },
        },
        y: yAxis(-84.29, 40, 20, 'Voltage [mV]', 111.5, (v) => (Math.round(v) % 40 === 0 ? String(Math.round(v)) : '')),
      },
      { left: 0, right: 18, top: 69, bottom: 0 }
    ),
  };
}

// ---------------- text labels ----------------
type Label = { text: string; x: number; y: number; size?: number; bold?: boolean; left?: boolean };
const labels: Label[] = [
  { text: 'A', x: 33, y: 27, size: 46, bold: true },
  { text: 'No pulse', x: 190, y: 39 },
  { text: 'Total current', x: 437, y: 27 },
  { text: 'Uncontrolled', x: 477, y: 266, left: true },
  { text: 'current spike', x: 477, y: 295, left: true },
  { text: 'B', x: 29, y: 457, size: 46, bold: true },
  { text: 'With prepulse', x: 193, y: 469 },
  { text: 'Uncontrolled', x: 130, y: 700, left: true },
  { text: 'current spike', x: 130, y: 731, left: true },
  { text: 'I-V', x: 709, y: 580 },
  { text: 'C', x: 31, y: 801, size: 46, bold: true },
  { text: 'Uncontrolled (axial) current', x: 432, y: 796 },
  { text: 'D', x: 31, y: 1048, size: 46, bold: true },
  { text: 'Voltage clamp protocol', x: 435, y: 1046 },
  { text: 'Prepulse', x: 200, y: 1151 },
  { text: 'No pulse', x: 200, y: 1200 },
];

export default function App() {
  return (
    <div
      style={{
        position: 'absolute',
        left: 0,
        top: 0,
        width: 786,
        height: 1306,
        background: '#fff',
        overflow: 'hidden',
        fontFamily: FONT,
        color: '#000',
      }}
    >
      <ChartCanvas box={boxA} build={buildA} />
      <ChartCanvas box={boxB} build={buildB} />
      <ChartCanvas box={boxC} build={buildC} />
      <ChartCanvas box={boxD} build={buildD} />
      <ChartCanvas box={boxInset} build={buildInset} />
      {labels.map((l, i) => (
        <div
          key={i}
          style={{
            position: 'absolute',
            left: l.x,
            top: l.y,
            transform: l.left ? 'translate(0,-50%)' : 'translate(-50%,-50%)',
            fontSize: l.size ?? 24,
            fontWeight: l.bold ? 'bold' : 'normal',
            lineHeight: 1,
            whiteSpace: 'nowrap',
          }}
        >
          {l.text}
        </div>
      ))}
      <div
        style={{
          position: 'absolute',
          left: 439,
          top: 457,
          transform: 'translate(-50%,-50%)',
          fontSize: 24,
          lineHeight: 1,
          whiteSpace: 'nowrap',
        }}
      >
        Controlled (Na <span style={{ fontSize: 17, position: 'relative', top: -9 }}>+</span>) current
      </div>
    </div>
  );
}
